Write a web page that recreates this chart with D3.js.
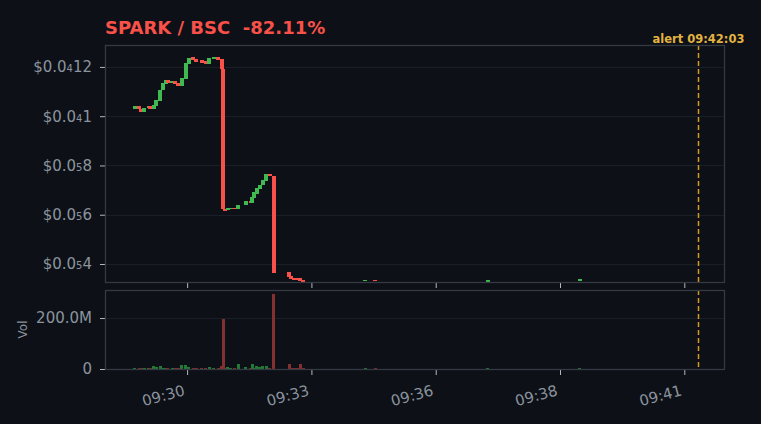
<!DOCTYPE html>
<html>
<head>
<meta charset="utf-8">
<script src="https://cdn.jsdelivr.net/npm/d3@7"></script>
<style>
  html, body { margin: 0; padding: 0; background: #0d1017; }
  svg { display: block; font-family: "DejaVu Sans", sans-serif; }
  svg text { white-space: pre; }
</style>
</head>
<body>
<svg id="chart" width="761" height="424"></svg>
<script>
// Candle data, prices in USD
const times = [
  "09:29:22", "09:29:28", "09:29:31", "09:29:35", "09:29:41", "09:29:43", "09:29:48", "09:29:51",
  "09:29:57", "09:30:00", "09:30:04", "09:30:07", "09:30:13", "09:30:17", "09:30:21", "09:30:26",
  "09:30:31", "09:30:35", "09:30:41", "09:30:45", "09:30:53", "09:30:58", "09:31:03", "09:31:09",
  "09:31:15", "09:31:20", "09:31:22", "09:31:24", "09:31:28", "09:31:32", "09:31:37", "09:31:42",
  "09:31:52", "09:31:59", "09:32:01", "09:32:03", "09:32:07", "09:32:11", "09:32:15", "09:32:20",
  "09:32:25", "09:32:30", "09:32:51", "09:32:54", "09:32:58", "09:33:02", "09:33:06", "09:33:10",
  "09:34:34", "09:34:47", "09:37:19", "09:39:24"
];
const opens = [
  10.28, 10.42, 10.28, 10.17, 10.33, 10.42, 10.31, 10.42,
  10.61, 11.05, 11.32, 11.47, 11.36, 11.44, 11.36, 11.24,
  11.52, 12.13, 12.41, 12.34, 12.28, 12.23, 12.13, 12.33,
  12.41, 12.34, 11.93, 6.22, 6.19, 6.27, 6.29, 6.22,
  6.38, 6.55, 6.47, 6.67, 6.84, 7.04, 7.19, 7.37,
  7.65, 7.56, 3.67, 3.50, 3.43, 3.43, 3.43, 3.35,
  3.32, 3.36, 3.32, 3.32
].map((v) => v * 1e-6);
const closes = [
  10.41, 10.28, 10.17, 10.33, 10.42, 10.31, 10.47, 10.65,
  11.05, 11.35, 11.47, 11.36, 11.44, 11.31, 11.24, 11.55,
  12.16, 12.38, 12.27, 12.20, 12.17, 12.13, 12.37, 12.41,
  12.27, 11.93, 6.22, 6.16, 6.29, 6.28, 6.22, 6.41,
  6.55, 6.47, 6.71, 6.92, 7.08, 7.20, 7.41, 7.65,
  7.56, 3.62, 3.48, 3.40, 3.42, 3.42, 3.32, 3.29,
  3.36, 3.32, 3.35, 3.38
].map((v) => v * 1e-6);
const volumes = [
  4, 4, 3, 3, 4, 3, 12, 6,
  12, 4, 4, 3, 4, 3, 4, 16,
  14, 6, 4, 4, 4, 4, 8, 4,
  4, 12, 198, 4, 6, 4, 4, 20,
  6, 4, 20, 5, 10, 6, 10, 10,
  4, 294, 20, 4, 4, 4, 20, 4,
  3, 2, 2, 3
].map((v) => v * 1e6);

const priceTicks = [4e-6, 6e-6, 8e-6, 10e-6, 12e-6];
const volumeTicks = [0, 200e6];
const timeTicks = ["09:30:33", "09:33:21", "09:36:09", "09:38:57", "09:41:45"];
const timeDomain = ["09:28:42", "09:42:40"];
const priceDomain = [3.27e-6, 12.89e-6];
const volumeDomain = [0, 310e6];
const alertTime = "09:42:03";
const title = "SPARK / BSC  -82.11%";

const colors = {
  bg: "#0d1017",
  frame: "#343a42",
  grid: "#1a1f27",
  text: "#8b949e",
  tick: "#b1b8c0",
  up: "#3fb950",
  down: "#f85149",
  upVol: "#237a35",
  downVol: "#833030",
  alert: "#d29922",
  alertText: "#e3b341",
};
const font = "DejaVu Sans, sans-serif";

const parse = d3.timeParse("%H:%M:%S");
const data = times.map((t, i) => ({
  time: parse(t),
  open: opens[i],
  close: closes[i],
  volume: volumes[i],
}));

const left = 105;
const right = 725;
const main = { top: 45, bottom: 282 };
const vol = { top: 290, bottom: 369 };

const x = d3.scaleTime().domain(timeDomain.map(parse)).range([left, right]);
const y = d3.scaleLinear().domain(priceDomain).range([main.bottom, main.top]);
const yVol = d3.scaleLinear().domain(volumeDomain).range([vol.bottom, vol.top]);

const svg = d3.select("#chart");
svg.append("rect").attr("width", 761).attr("height", 424).attr("fill", colors.bg);

const defs = svg.append("defs");
defs.append("clipPath").attr("id", "clip-main")
  .append("rect")
  .attr("x", left).attr("y", main.top)
  .attr("width", right - left).attr("height", main.bottom - main.top);
defs.append("clipPath").attr("id", "clip-vol")
  .append("rect")
  .attr("x", left).attr("y", vol.top)
  .attr("width", right - left).attr("height", vol.bottom - vol.top);

// "$0.0₄12" style labels: subscript counts the zeros after the decimal point
function priceLabel(sel, v) {
  const exp = Math.floor(Math.log10(v) + 1e-9);
  const zeros = -exp - 1;
  const digits = String(Math.round(v / Math.pow(10, exp - 1))).replace(/0+$/, "");
  sel.text(null);
  sel.append("tspan").text("$0.0");
  sel.append("tspan").attr("font-size", 10).text(zeros);
  sel.append("tspan").text(digits);
}

function volumeLabel(v) {
  return v === 0 ? "0" : (v / 1e6).toFixed(1) + "M";
}

// Grid lines
svg.append("g")
  .selectAll("line")
  .data(priceTicks)
  .enter()
  .append("line")
  .attr("x1", left).attr("x2", right)
  .attr("y1", (d) => Math.round(y(d)) + 0.5)
  .attr("y2", (d) => Math.round(y(d)) + 0.5)
  .attr("stroke", colors.grid);

svg.append("g")
  .selectAll("line")
  .data(volumeTicks.filter((d) => d > 0))
  .enter()
  .append("line")
  .attr("x1", left).attr("x2", right)
  .attr("y1", (d) => Math.round(yVol(d)) + 0.5)
  .attr("y2", (d) => Math.round(yVol(d)) + 0.5)
  .attr("stroke", colors.grid);

// Candles (bodies only)
const candleWidth = 4;
svg.append("g")
  .attr("clip-path", "url(#clip-main)")
  .attr("shape-rendering", "crispEdges")
  .selectAll("rect")
  .data(data)
  .enter()
  .append("rect")
  .attr("x", (d) => Math.round(x(d.time) - candleWidth / 2))
  .attr("width", candleWidth)
  .attr("y", (d) => y(Math.max(d.open, d.close)))
  .attr("height", (d) => Math.max(1.5, Math.abs(y(d.open) - y(d.close))))
  .attr("fill", (d) => (d.close >= d.open ? colors.up : colors.down));

// Volume bars
const barWidth = 3;
svg.append("g")
  .attr("clip-path", "url(#clip-vol)")
  .attr("shape-rendering", "crispEdges")
  .selectAll("rect")
  .data(data)
  .enter()
  .append("rect")
  .attr("x", (d) => Math.round(x(d.time) - barWidth / 2))
  .attr("width", barWidth)
  .attr("y", (d) => Math.round(yVol(d.volume)))
  .attr("height", (d) => Math.max(1, Math.round(yVol(0) - yVol(d.volume))))
  .attr("fill", (d) => (d.close >= d.open ? colors.upVol : colors.downVol));

// Alert line in both panels
const alertX = Math.round(x(parse(alertTime))) + 0.5;
[main, vol].forEach((p) => {
  svg.append("line")
    .attr("x1", alertX).attr("x2", alertX)
    .attr("y1", p.top).attr("y2", p.bottom)
    .attr("stroke", colors.alert)
    .attr("stroke-width", 1.5)
    .attr("stroke-dasharray", "5,3");
});
svg.append("text")
  .attr("x", alertX)
  .attr("y", 43)
  .attr("text-anchor", "middle")
  .attr("font-size", 11.5)
  .attr("font-weight", "bold")
  .attr("fill", colors.alertText)
  .text("alert " + alertTime);

// Axes
function styleAxis(g) {
  g.attr("font-family", font).attr("font-size", 15);
  g.select(".domain").remove();
  g.selectAll(".tick line").attr("stroke", colors.tick);
  g.selectAll(".tick text").attr("fill", colors.text);
}

svg.append("g")
  .attr("transform", `translate(${left},0)`)
  .call(d3.axisLeft(y).tickValues(priceTicks).tickSize(5).tickPadding(8))
  .call(styleAxis)
  .selectAll(".tick text")
  .each(function (d) { priceLabel(d3.select(this), d); });

svg.append("g")
  .attr("transform", `translate(${left},0)`)
  .call(d3.axisLeft(yVol).tickValues(volumeTicks).tickFormat(volumeLabel).tickSize(5).tickPadding(8))
  .call(styleAxis);

const tickTimes = timeTicks.map(parse);
const fmt = d3.timeFormat("%H:%M");
svg.append("g")
  .attr("transform", `translate(0,${main.bottom + 1})`)
  .call(d3.axisBottom(x).tickValues(tickTimes).tickFormat("").tickSize(5))
  .call(styleAxis);

const xAxisVol = svg.append("g")
  .attr("transform", `translate(0,${vol.bottom + 1})`)
  .call(d3.axisBottom(x).tickValues(tickTimes).tickFormat(fmt).tickSize(5))
  .call(styleAxis);
xAxisVol.selectAll(".tick text")
  .attr("text-anchor", "end")
  .attr("dy", null)
  .attr("y", null)
  .attr("transform", "translate(-2,25) rotate(-15)");

// Panel frames (bottom edge sits just under the zero line)
[main, vol].forEach((p) => {
  svg.append("rect")
    .attr("x", left + 0.5).attr("y", p.top + 0.5)
    .attr("width", right - left - 1).attr("height", p.bottom - p.top)
    .attr("fill", "none")
    .attr("stroke", colors.frame)
    .attr("stroke-width", 1.3);
});

// Labels
svg.append("text")
  .attr("transform", `translate(27,${(vol.top + vol.bottom) / 2}) rotate(-90)`)
  .attr("text-anchor", "middle")
  .attr("font-size", 12)
  .attr("fill", colors.text)
  .text("Vol");

svg.append("text")
  .attr("x", left)
  .attr("y", 34)
  .attr("font-size", 18)
  .attr("font-weight", "bold")
  .attr("fill", colors.down)
  .text(title);
</script>
</body>
</html>
